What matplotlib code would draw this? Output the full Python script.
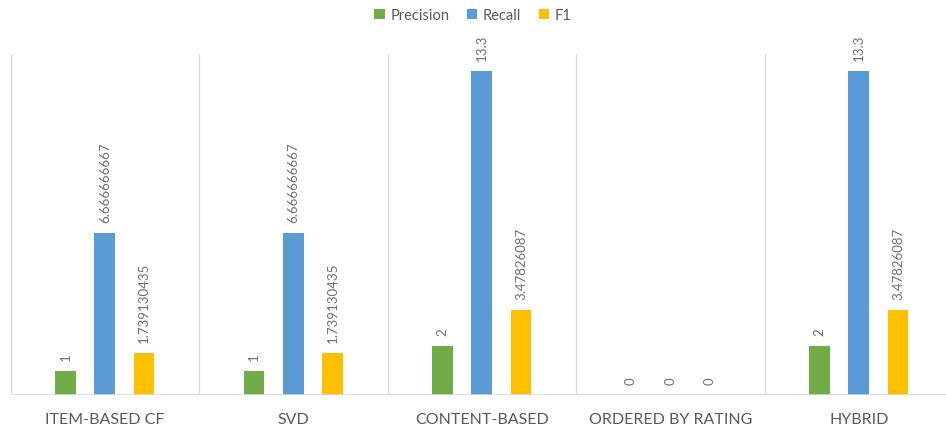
import matplotlib.pyplot as plt
import numpy as np

categories = ["ITEM-BASED CF", "SVD", "CONTENT-BASED", "ORDERED BY RATING", "HYBRID"]
precision = [1, 1, 2, 0, 2]
recall = [6.666666667, 6.666666667, 13.3, 0, 13.3]
f1 = [1.739130435, 1.739130435, 3.47826087, 0, 3.47826087]
labels_p = ["1", "1", "2", "0", "2"]
labels_r = ["6.666666667", "6.666666667", "13.3", "0", "13.3"]
labels_f = ["1.739130435", "1.739130435", "3.47826087", "0", "3.47826087"]

plt.rcParams["font.family"] = ["Lato", "DejaVu Sans"]

fig = plt.figure(figsize=(9.46, 4.31), dpi=100)
ax = fig.add_axes([10.5 / 946, 35 / 431, 942.5 / 946, 341 / 431])

x = np.arange(len(categories))
w = 0.11
off = 0.208
series = [
    ("Precision", precision, labels_p, "#70AD47", -off),
    ("Recall", recall, labels_r, "#5B9BD5", 0),
    ("F1", f1, labels_f, "#FFC000", off),
]
for name, vals, labs, col, dx in series:
    bars = ax.bar(x + dx, vals, width=w, color=col, label=name, zorder=3)
    for b, t in zip(bars, labs):
        ax.annotate(t, (b.get_x() + b.get_width() / 2, b.get_height()),
                    xytext=(0, 8), textcoords="offset points",
                    rotation=90, ha="center", va="bottom",
                    fontsize=9.5, color="#707070")

ax.set_xlim(-0.5, len(categories) - 0.5)
ax.set_ylim(0, 14)
# light separators between categories
for b in np.arange(-0.5, len(categories), 1.0):
    ax.axvline(b, color="#D9D9D9", lw=1, zorder=1)
ax.axhline(0, color="#D9D9D9", lw=1.2, zorder=4)

for s in ax.spines.values():
    s.set_visible(False)
ax.set_yticks([])
ax.set_xticks(x)
ax.set_xticklabels(categories, fontsize=11.5, color="#595959")
ax.tick_params(axis="x", length=0, pad=12)

fig.legend(loc="upper center", bbox_to_anchor=(0.5, 1.01), ncol=3, frameon=False,
           fontsize=10.5, handlelength=0.7, handleheight=0.7, handletextpad=0.4,
           columnspacing=1.2, labelcolor="#595959")

fig.savefig("out.png", dpi=100)
